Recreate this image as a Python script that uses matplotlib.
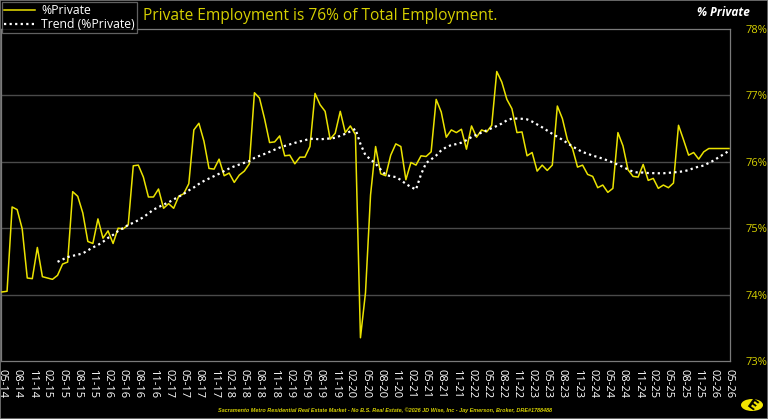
import matplotlib
matplotlib.use("Agg")
import matplotlib.pyplot as plt
from matplotlib.patches import Circle, Rectangle
import numpy as np
import pandas as pd

# monthly share of private employment, 05-14 .. 05-26
months = pd.date_range("2014-05-01", periods=145, freq="MS").strftime("%m-%y").tolist()
pct_private = [
    74.04, 74.05, 75.32, 75.28, 74.99, 74.25, 74.24, 74.71, 74.27, 74.25, 74.23, 74.29,
    74.46, 74.49, 75.55, 75.48, 75.23, 74.80, 74.77, 75.14, 74.85, 74.96, 74.77, 75.00,
    74.99, 75.05, 75.94, 75.95, 75.77, 75.47, 75.47, 75.59, 75.30, 75.37, 75.30, 75.48,
    75.52, 75.67, 76.48, 76.58, 76.31, 75.90, 75.89, 76.04, 75.79, 75.83, 75.69, 75.80,
    75.86, 75.97, 77.04, 76.96, 76.65, 76.29, 76.30, 76.39, 76.09, 76.10, 75.97, 76.07,
    76.07, 76.23, 77.03, 76.86, 76.76, 76.34, 76.43, 76.76, 76.44, 76.54, 76.41, 73.35,
    74.03, 75.50, 76.23, 75.82, 75.79, 76.10, 76.27, 76.23, 75.73, 75.99, 75.95, 76.09,
    76.08, 76.15, 76.94, 76.75, 76.37, 76.48, 76.44, 76.49, 76.19, 76.54, 76.37, 76.48,
    76.45, 76.55, 77.36, 77.20, 76.94, 76.80, 76.44, 76.45, 76.09, 76.14, 75.86, 75.95,
    75.87, 75.95, 76.84, 76.65, 76.33, 76.20, 75.92, 75.95, 75.81, 75.78, 75.61, 75.65,
    75.54, 75.60, 76.44, 76.24, 75.88, 75.78, 75.77, 75.96, 75.72, 75.75, 75.60, 75.65,
    75.61, 75.68, 76.55, 76.33, 76.10, 76.14, 76.04, 76.15, 76.20, 76.20, 76.20, 76.20,
    76.20,
]
y_ticks = [73, 74, 75, 76, 77, 78]

title = "Private Employment is 76% of Total Employment."
footer = ("Sacramento Metro Residential Real Estate Market - No B.S. Real Estate, "
          "\u00a92026 JD Wise, Inc - Jay Emerson, Broker, DRE#1788488")

YELLOW = "#ebe300"
TEXT_YELLOW = "#d6d000"
GRAY = "#7a7a7a"

series = pd.Series(pct_private)
trend = series.rolling(12).mean()  # 12-month moving average trendline
x = np.arange(len(series))

W, H = 768, 419
fig = plt.figure(figsize=(W / 100, H / 100), dpi=100, facecolor="black")
ax = fig.add_axes([1 / W, 1 - 361 / H, 729 / W, 332 / H], facecolor="black")

ax.plot(x, series, color=YELLOW, lw=1.1, label="%Private", zorder=3)
ax.plot(x, trend, color="white", lw=1.6, linestyle=(0, (1, 1.5)),
        dash_capstyle="butt", label="Trend (%Private)", zorder=4)

ax.set_xlim(-0.2, 144.2)
ax.set_ylim(73, 78)
ax.yaxis.tick_right()
ax.set_yticks(y_ticks)
ax.set_yticklabels([f"{v}%" for v in y_ticks], color=TEXT_YELLOW,
                   fontsize=8, family="Open Sans")
ax.tick_params(axis="y", length=0, pad=11)
for v in y_ticks[1:-1]:
    ax.axhline(v, color="#4a4a4a", lw=1.0, zorder=1)

ax.set_xticks(x[::3])
ax.set_xticklabels(months[::3], rotation=270, color="white", fontsize=8,
                   family="Open Sans", va="top", ha="center")
ax.tick_params(axis="x", length=0, pad=6)

for sp in ax.spines.values():
    sp.set_color(GRAY)
    sp.set_linewidth(0.9)

leg = fig.legend(loc="upper left", bbox_to_anchor=(2 / W, 1 - 2 / H),
                 frameon=True, fancybox=False, facecolor="black", edgecolor=GRAY,
                 handlelength=2.5, handletextpad=0.5,
                 borderpad=0.2, labelspacing=0.05, borderaxespad=0,
                 prop={"family": "Open Sans", "size": 8.8})
for t in leg.get_texts():
    t.set_color("white")
leg.get_frame().set_linewidth(0.9)

fig.text(143 / W, 1 - 16 / H, title, color=TEXT_YELLOW, fontsize=11.2,
         family="Open Sans", va="center", ha="left")
fig.text(750 / W, 1 - 13 / H, "% Private", color="white", fontsize=8.5,
         style="italic", weight="bold", family="Open Sans", va="center", ha="right")
fig.text(385 / W, 1 - 410 / H, footer, color=TEXT_YELLOW, fontsize=4,
         style="italic", weight="bold", family="Liberation Sans",
         va="center", ha="center")

# small logo in the bottom right corner
fig.patches.append(Circle((752 / W, 1 - 405 / H), 11 / W, transform=fig.transFigure,
                          facecolor="#f2e600", edgecolor="none"))
fig.text(752 / W, 1 - 405 / H, "E", color="black", fontsize=10, weight="bold",
         rotation=-35, ha="center", va="center")

fig.patches.append(Rectangle((0, 0), 1, 1, transform=fig.transFigure,
                             fill=False, edgecolor=GRAY, lw=1.2))

fig.savefig("out.png", dpi=100, facecolor="black")
